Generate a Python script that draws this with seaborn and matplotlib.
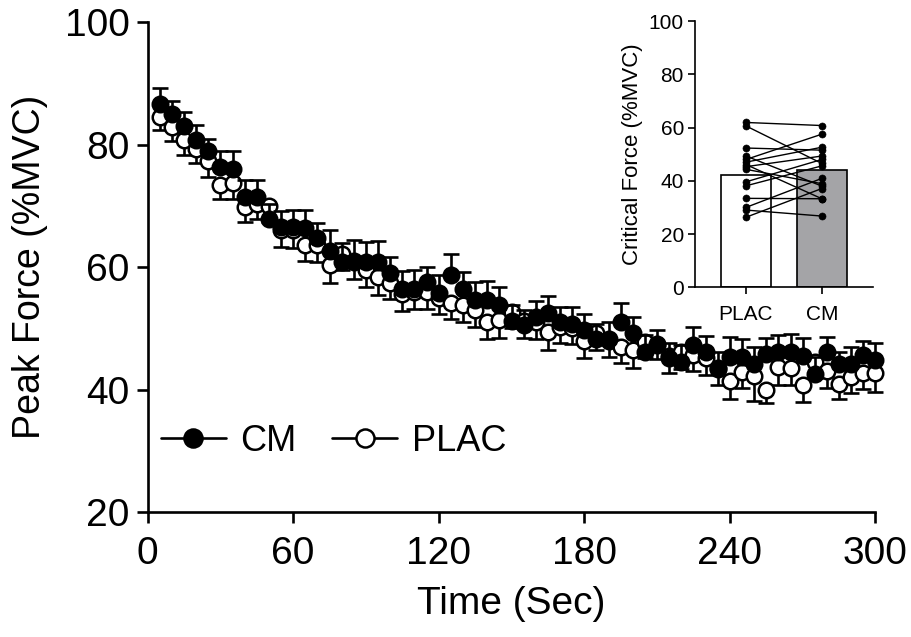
import numpy as np
import pandas as pd
import matplotlib
matplotlib.use("Agg")
import matplotlib.pyplot as plt
from matplotlib.lines import Line2D
import seaborn as sns

# ---------------- data ----------------
time_s = np.arange(5, 305, 5)

cm_force = [86.6, 85.1, 83.1, 80.7, 78.9, 76.3, 76.0, 71.4, 71.4, 67.9,
            66.6, 66.6, 66.4, 64.7, 62.7, 60.9, 60.9, 60.9, 60.9, 59.1,
            56.5, 56.5, 57.6, 55.8, 58.8, 56.4, 54.6, 54.6, 53.8, 51.2,
            50.5, 51.9, 52.5, 51.1, 50.8, 49.8, 48.2, 48.2, 51.1, 49.2,
            46.2, 47.3, 45.1, 44.5, 47.3, 46.2, 43.4, 45.3, 45.3, 44.2,
            45.8, 46.2, 46.2, 45.5, 42.6, 46.2, 44.2, 44.2, 45.6, 44.8]
cm_sem = [2.7, 2.0, 2.3, 2.5, 2.1, 2.6, 2.9, 2.8, 2.8, 2.4,
          2.6, 2.7, 3.0, 2.5, 3.4, 3.0, 3.6, 3.2, 3.4, 2.6,
          2.9, 3.0, 2.5, 3.0, 3.3, 2.9, 3.0, 3.2, 3.0, 2.6,
          2.5, 2.6, 2.8, 2.4, 2.7, 2.5, 2.6, 2.9, 3.1, 2.7,
          2.8, 2.5, 2.6, 2.8, 2.9, 2.6, 2.8, 3.3, 3.0, 2.7,
          2.7, 2.7, 2.9, 2.9, 2.7, 2.4, 1.9, 2.7, 2.3, 2.8]

plac_force = [84.6, 82.9, 80.8, 79.3, 77.3, 73.5, 73.8, 69.9, 70.3, 70.0,
              66.0, 66.0, 63.6, 63.6, 60.3, 62.1, 61.0, 59.5, 58.4, 57.5,
              55.7, 56.0, 56.0, 55.0, 54.1, 53.8, 53.0, 51.1, 51.3, 52.7,
              51.2, 51.1, 49.4, 50.2, 50.0, 47.9, 49.2, 48.0, 47.0, 46.4,
              47.8, 47.5, 45.5, 46.2, 45.6, 45.1, 43.6, 41.4, 42.9, 42.2,
              39.9, 43.7, 43.5, 40.7, 44.5, 43.0, 40.9, 42.1, 42.7, 42.7]
plac_sem = [2.2, 2.3, 2.4, 2.3, 2.5, 2.4, 2.6, 2.5, 2.4, 2.6,
            2.7, 2.8, 2.6, 2.7, 2.8, 2.6, 2.9, 2.8, 2.9, 2.7,
            2.8, 2.9, 2.8, 2.7, 2.6, 2.8, 2.7, 2.9, 2.8, 2.6,
            2.7, 2.8, 2.9, 2.6, 2.5, 2.7, 2.8, 2.6, 2.7, 2.9,
            2.6, 2.5, 2.7, 2.8, 2.6, 2.7, 2.8, 3.0, 2.7, 4.0,
            2.1, 3.0, 2.8, 2.7, 2.6, 2.7, 2.5, 2.6, 2.6, 3.1]

# inset: critical force per participant
cf_plac = [61.9, 60.6, 52.3, 49.3, 48.0, 47.0, 46.1, 45.3, 44.3, 39.6,
           38.1, 33.4, 30.0, 29.0, 26.3]
cf_cm = [60.75, 46.5, 51.5, 38.0, 57.5, 52.6, 33.25, 49.3, 38.9, 48.0,
         45.6, 33.25, 40.9, 26.75, 37.1]
cf_groups = ["PLAC", "CM"]
cf_means = [42.3, 44.2]
bar_colors = ["white", "#a3a3a8"]

# ---------------- style ----------------
sns.set_theme(style="ticks")
plt.rcParams["font.family"] = ["Liberation Sans", "DejaVu Sans"]
plt.rcParams["text.color"] = "black"
plt.rcParams["axes.labelcolor"] = "black"
plt.rcParams["xtick.color"] = "black"
plt.rcParams["ytick.color"] = "black"

fig = plt.figure(figsize=(9.11, 6.37), dpi=100)
ax = fig.add_axes([0.162, 0.196, 0.799, 0.769])

lw = 1.9
# error bars (one-sided)
eb1 = ax.errorbar(time_s, plac_force, yerr=[plac_sem, np.zeros(len(plac_sem))],
                  fmt="none", ecolor="black", elinewidth=lw, capsize=5.5,
                  capthick=lw, zorder=2)
eb2 = ax.errorbar(time_s, cm_force, yerr=[np.zeros(len(cm_sem)), cm_sem],
                  fmt="none", ecolor="black", elinewidth=lw, capsize=5.5,
                  capthick=lw, zorder=4)
for eb in (eb1, eb2):
    for art in eb.lines[1] + eb.lines[2]:
        art.set_clip_on(False)

df_p = pd.DataFrame({"t": time_s, "v": plac_force})
df_c = pd.DataFrame({"t": time_s, "v": cm_force})
sns.scatterplot(data=df_p, x="t", y="v", ax=ax, s=125, color="white",
                edgecolor="black", linewidth=1.8, zorder=3, legend=False,
                clip_on=False)
sns.scatterplot(data=df_c, x="t", y="v", ax=ax, s=125, color="black",
                edgecolor="black", linewidth=1.8, zorder=5, legend=False,
                clip_on=False)

ax.set_xlim(0, 300)
ax.set_ylim(20, 100)
ax.set_xticks([0, 60, 120, 180, 240, 300])
ax.set_yticks([20, 40, 60, 80, 100])
ax.set_xlabel("Time (Sec)", fontsize=28, labelpad=10)
ax.set_ylabel("Peak Force (%MVC)", fontsize=27, labelpad=12)
ax.tick_params(axis="both", labelsize=28, width=lw, length=8, color="black",
               direction="out", pad=5)
ax.tick_params(axis="x", pad=9)
for sp in ["left", "bottom"]:
    ax.spines[sp].set_linewidth(lw)
    ax.spines[sp].set_color("black")
sns.despine(ax=ax)

handles = [Line2D([], [], color="black", lw=lw, marker="o", markersize=13,
                  markerfacecolor="black", markeredgecolor="black", markeredgewidth=1.8),
           Line2D([], [], color="black", lw=lw, marker="o", markersize=13,
                  markerfacecolor="white", markeredgecolor="black", markeredgewidth=1.8)]
ax.legend(handles, ["CM", "PLAC"], loc="center left",
          bbox_to_anchor=(0.018, 0.145), ncol=2, frameon=False, fontsize=26,
          handlelength=1.8, columnspacing=1.0, handletextpad=0.4,
          borderaxespad=0, borderpad=0)

# ---------------- inset ----------------
ax2 = fig.add_axes([0.763, 0.549, 0.195, 0.418])
df_bar = pd.DataFrame({"group": cf_groups, "mean": cf_means})
sns.barplot(data=df_bar, x="group", y="mean", hue="group",
            palette=dict(zip(cf_groups, bar_colors)), ax=ax2, width=0.66,
            edgecolor="black", linewidth=1.2, legend=False, zorder=1)
for a, b in zip(cf_plac, cf_cm):
    ax2.plot([0, 1], [a, b], color="black", lw=1.0, zorder=3)
df_pts = pd.DataFrame({"x": [0] * len(cf_plac) + [1] * len(cf_cm),
                       "y": cf_plac + cf_cm})
sns.scatterplot(data=df_pts, x="x", y="y", ax=ax2, s=26, color="black",
                edgecolor="black", zorder=4, legend=False)
ax2.set_xlim(-0.67, 1.67)
ax2.set_ylim(0, 100)
ax2.set_yticks([0, 20, 40, 60, 80, 100])
ax2.set_xticks([0, 1])
ax2.set_xticklabels(cf_groups)
ax2.set_xlabel("")
ax2.set_ylabel("Critical Force (%MVC)", fontsize=16, labelpad=4)
ax2.tick_params(axis="both", labelsize=15, width=1.2, length=5,
                color="black", direction="out", pad=3)
ax2.tick_params(axis="x", pad=8)
for sp in ["left", "bottom"]:
    ax2.spines[sp].set_linewidth(1.2)
    ax2.spines[sp].set_color("black")
sns.despine(ax=ax2)
ax2.patch.set_alpha(0)

fig.savefig("out.png", dpi=100)
